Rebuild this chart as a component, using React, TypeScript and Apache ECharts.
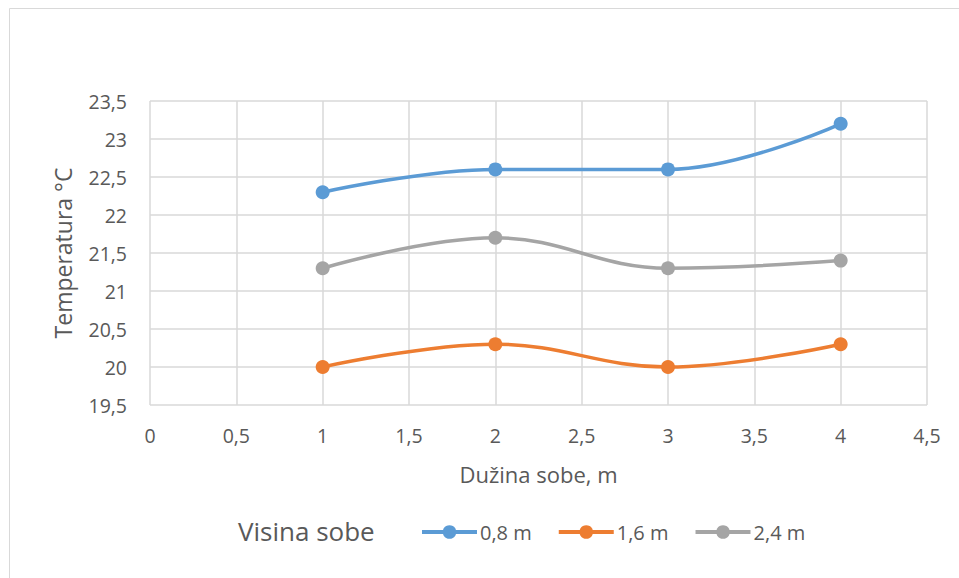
import React, { useEffect, useRef } from "react";
import * as echarts from "echarts";

const xValues = [1, 2, 3, 4];
const seriesNames = ["0,8 m", "1,6 m", "2,4 m"];
const s08 = [22.3, 22.6, 22.6, 23.2];
const s16 = [20.0, 20.3, 20.0, 20.3];
const s24 = [21.3, 21.7, 21.3, 21.4];
const colors = ["#5B9BD5", "#ED7D31", "#A5A5A5"];
const xTitle = "Dužina sobe, m";
const yTitle = "Temperatura °C";
const legendTitle = "Visina sobe";

const FONT = "'Open Sans', sans-serif";
const TXT = "#595959";

export default function App() {
  const ref = useRef<HTMLDivElement>(null);
  useEffect(() => {
    document.body.style.margin = "0";
    const chart = echarts.init(ref.current!, null, { renderer: "svg" });
    const allSeries = [s08, s16, s24];
    const fmt = (v: number) => String(v).replace(".", ",");
    chart.setOption({
      animation: false,
      backgroundColor: "#ffffff",
      textStyle: { fontFamily: FONT },
      grid: { left: 150, right: 32, top: 101, bottom: 173 },
      xAxis: {
        type: "value",
        min: 0,
        max: 4.5,
        interval: 0.5,
        axisLine: { show: false },
        axisTick: { show: false },
        splitLine: { show: true, lineStyle: { color: "#D9D9D9", width: 1.5 } },
        axisLabel: { color: TXT, fontSize: 19.5, fontFamily: FONT, margin: 20, formatter: fmt },
        name: xTitle,
        nameLocation: "middle",
        nameGap: 58,
        nameTextStyle: { color: TXT, fontSize: 22, fontFamily: FONT },
      },
      yAxis: {
        type: "value",
        min: 19.5,
        max: 23.5,
        interval: 0.5,
        axisLine: { show: false },
        axisTick: { show: false },
        splitLine: { show: true, lineStyle: { color: "#D9D9D9", width: 1.5 } },
        axisLabel: { color: TXT, fontSize: 19.5, fontFamily: FONT, margin: 23, formatter: fmt },
        name: yTitle,
        nameLocation: "middle",
        nameRotate: 90,
        nameGap: 76,
        nameTextStyle: { color: TXT, fontSize: 23, fontFamily: FONT },
      },
      legend: {
        left: 420,
        top: 522,
        padding: 0,
        itemWidth: 55,
        itemHeight: 17,
        itemGap: 25,
        lineStyle: { width: 4 },
        textStyle: { color: TXT, fontSize: 20, fontFamily: FONT, padding: [0, 0, 0, -2] },
        data: seriesNames,
      },
      graphic: [
        {
          type: "rect",
          shape: { x: 9.5, y: 8.5, width: 980, height: 600 },
          style: { fill: "none", stroke: "#D9D9D9", lineWidth: 1 },
          silent: true,
        },
        {
          type: "text",
          left: 238,
          top: 518,
          style: { text: legendTitle, fill: TXT, fontSize: 26, fontFamily: FONT },
        },
      ],
      series: seriesNames.map((name, i) => ({
        name,
        type: "line",
        smooth: 0.4,
        data: xValues.map((x, j) => [x, allSeries[i][j]]),
        symbol: "circle",
        symbolSize: 14,
        lineStyle: { color: colors[i], width: 3.5 },
        itemStyle: { color: colors[i] },
      })),
    });
    return () => chart.dispose();
  }, []);
  return <div ref={ref} style={{ width: 959, height: 578 }} />;
}
